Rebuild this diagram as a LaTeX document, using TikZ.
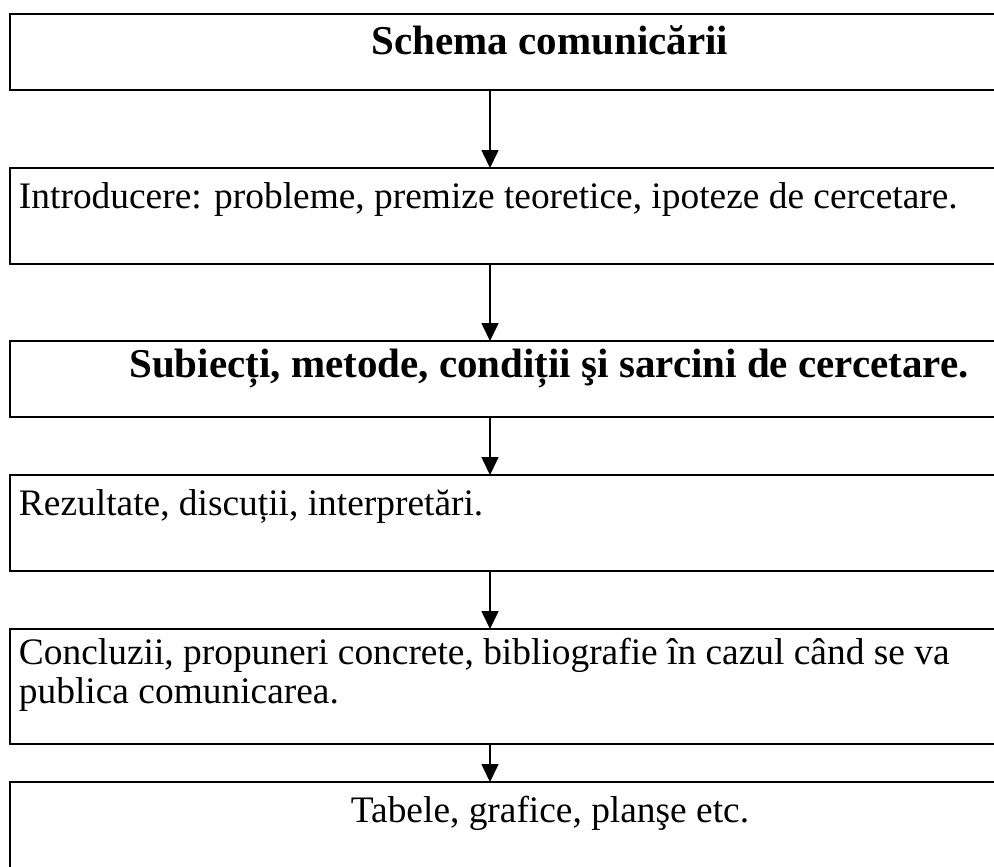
\documentclass[tikz,border=0pt]{standalone}
\usepackage{fontspec}
\setmainfont{Liberation Serif}
\usetikzlibrary{arrows.meta}
\begin{document}
\begin{tikzpicture}[x=1pt,y=-1pt,
  box/.style={draw, line width=2pt, inner sep=0pt, outer sep=0pt, minimum width=1080pt, anchor=north west},
  txt/.style={font=\fontsize{37.4}{43}\selectfont, inner sep=0pt, outer sep=0pt},
  btxt/.style={font=\fontsize{41}{47}\selectfont\bfseries, inner sep=0pt, outer sep=0pt},
  arr/.style={line width=1.6pt, -{Triangle[width=17pt,length=18pt]}}]
\useasboundingbox (0,0) rectangle (994,867);
\clip (0,0) rectangle (994,867);
\node[box, minimum height=76pt]  (b1) at (10,14)  {};
\node[box, minimum height=96pt]  (b2) at (10,168) {};
\node[box, minimum height=76pt]  (b3) at (10,341) {};
\node[box, minimum height=96pt]  (b4) at (10,475) {};
\node[box, minimum height=115pt] (b5) at (10,629) {};
\node[box, minimum height=120pt] (b6) at (10,782) {};
\node[btxt, anchor=base] (t1) at (550,55) {Schema comunicării};
\node[txt, anchor=base west] (t2) at (19,208) {Introducere: probleme, premize teoretice, ipoteze de cercetare.};
\node[btxt, anchor=base] (t3) at (549,377) {Subiecți, metode, condiții şi sarcini de cercetare.};
\node[txt, anchor=base west] (t4) at (19,515) {Rezultate, discuții, interpretări.};
\node[txt, anchor=base west] (t5a) at (19,664) {Concluzii, propuneri concrete, bibliografie în cazul când se va};
\node[txt, anchor=base west] (t5b) at (19,703) {publica comunicarea.};
\node[txt, anchor=base] (t6) at (550,822) {Tabele, grafice, planşe etc.};
\coordinate (ax) at (490,0);
\draw[arr] (ax |- b1.south) -- (ax |- b2.north);
\draw[arr] (ax |- b2.south) -- (ax |- b3.north);
\draw[arr] (ax |- b3.south) -- (ax |- b4.north);
\draw[arr] (ax |- b4.south) -- (ax |- b5.north);
\draw[arr] (ax |- b5.south) -- (ax |- b6.north);
\end{tikzpicture}
\end{document}
